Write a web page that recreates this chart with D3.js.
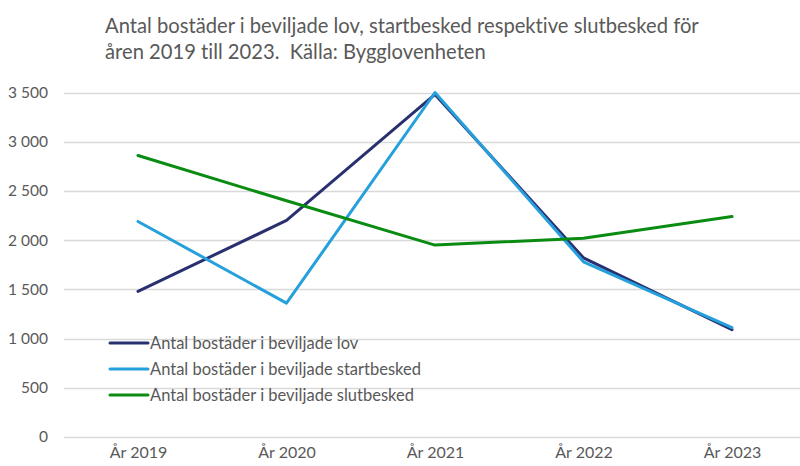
<!DOCTYPE html>
<html lang="sv">
<head>
<meta charset="utf-8">
<script src="https://cdn.jsdelivr.net/npm/d3@7"></script>
<style>
  html, body { margin: 0; padding: 0; background: #fff; }
  svg { display: block; }
  text { font-family: Lato, "Open Sans", sans-serif; fill: #595959; font-variant-ligatures: none; }
</style>
</head>
<body>
<svg id="chart" width="800" height="466"></svg>
<script>
// Years on the x axis
const years = ["År 2019", "År 2020", "År 2021", "År 2022", "År 2023"];

// Number of dwellings per year
const lov = [1480, 2200, 3480, 1820, 1090];
const startbesked = [2190, 1360, 3500, 1780, 1110];
const slutbesked = [2860, 2400, 1950, 2020, 2240];

const seriesNames = [
  "Antal bostäder i beviljade lov",
  "Antal bostäder i beviljade startbesked",
  "Antal bostäder i beviljade slutbesked"
];

const yTicks = [0, 500, 1000, 1500, 2000, 2500, 3000, 3500];

const titleLines = [
  "Antal bostäder i beviljade lov, startbesked respektive slutbesked för",
  "åren 2019 till 2023.  Källa: Bygglovenheten"
];

const series = [
  { name: seriesNames[0], values: lov, color: "#283070" },
  { name: seriesNames[1], values: startbesked, color: "#25a0dc" },
  { name: seriesNames[2], values: slutbesked, color: "#0a8c12" }
];

const svg = d3.select("#chart");
const margin = { left: 64, right: 0, top: 92.5, bottom: 29 };
const width = 800, height = 466;

const x = d3.scalePoint()
  .domain(years)
  .range([138, 732]);

const y = d3.scaleLinear()
  .domain([0, 3500])
  .range([height - margin.bottom, margin.top]);

// Title
svg.append("g")
  .selectAll("text")
  .data(titleLines)
  .join("text")
  .attr("x", 105)
  .attr("y", (d, i) => 33 + i * 26)
  .attr("font-size", 20.2)
  .style("white-space", "pre")
  .text(d => d);

// Horizontal gridlines
svg.append("g")
  .selectAll("line")
  .data(yTicks)
  .join("line")
  .attr("x1", margin.left)
  .attr("x2", width - margin.right)
  .attr("y1", d => Math.round(y(d)) + 0.5)
  .attr("y2", d => Math.round(y(d)) + 0.5)
  .attr("stroke", "#d9d9d9")
  .attr("stroke-width", 1.3);

// Y axis labels (space as thousands separator)
const fmt = d => d3.format(",")(d).replace(/,/g, "\u00a0");
const yAxis = d3.axisLeft(y).tickValues(yTicks).tickSize(0).tickPadding(0).tickFormat(fmt);
svg.append("g")
  .attr("transform", "translate(48,0)")
  .call(yAxis)
  .call(g => g.select(".domain").remove())
  .call(g => g.selectAll("text")
    .attr("font-size", 15.5)
    .attr("fill", "#595959")
    .style("font-family", "Lato, sans-serif"));

// X axis labels
const xAxis = d3.axisBottom(x).tickSize(0).tickPadding(0);
svg.append("g")
  .attr("transform", "translate(0,447)")
  .call(xAxis)
  .call(g => g.select(".domain").remove())
  .call(g => g.selectAll("text")
    .attr("font-size", 16)
    .attr("fill", "#595959")
    .style("font-family", "Lato, sans-serif"));

// Lines
const line = d3.line()
  .x((d, i) => x(years[i]))
  .y(d => y(d));

svg.append("g")
  .selectAll("path")
  .data(series)
  .join("path")
  .attr("d", d => line(d.values))
  .attr("fill", "none")
  .attr("stroke", d => d.color)
  .attr("stroke-width", 3)
  .attr("stroke-linejoin", "round")
  .attr("stroke-linecap", "round");

// Legend
const legend = svg.append("g")
  .selectAll("g")
  .data(series)
  .join("g")
  .attr("transform", (d, i) => `translate(110,${343 + i * 26})`);

legend.append("line")
  .attr("x1", 0)
  .attr("x2", 38)
  .attr("stroke", d => d.color)
  .attr("stroke-width", 3)
  .attr("stroke-linecap", "round");

legend.append("text")
  .attr("x", 40)
  .attr("y", 6)
  .attr("font-size", 16.5)
  .text(d => d.name);
</script>
</body>
</html>
